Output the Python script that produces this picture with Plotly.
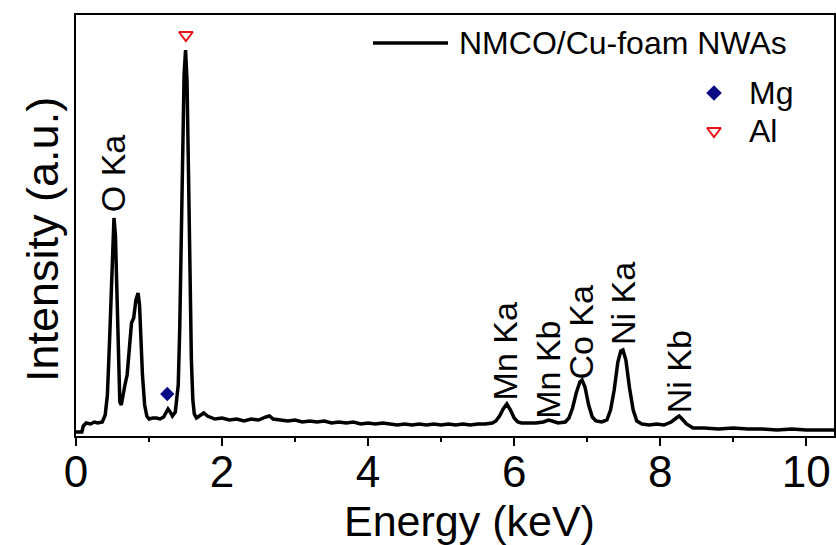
import plotly.graph_objects as go

# ---------------- data ----------------
energy_kev = [
    0.00, 0.08, 0.10, 0.14, 0.20, 0.25, 0.30, 0.36, 0.40, 0.43, 0.46, 0.48, 0.50, 0.52, 0.54,
    0.56, 0.58, 0.60, 0.62, 0.64, 0.67, 0.70, 0.73, 0.76, 0.79, 0.82, 0.85, 0.87, 0.89, 0.91,
    0.94, 0.97, 1.00, 1.05, 1.10, 1.15, 1.20, 1.23, 1.26, 1.29, 1.32, 1.36, 1.40, 1.42, 1.44,
    1.46, 1.48, 1.50, 1.52, 1.54, 1.56, 1.58, 1.60, 1.62, 1.65, 1.70, 1.75, 1.80, 1.90, 2.00,
    2.10, 2.20, 2.30, 2.40, 2.50, 2.60, 2.65, 2.70, 2.80, 2.90, 3.00, 3.10, 3.20, 3.30, 3.40,
    3.50, 3.60, 3.70, 3.80, 3.90, 4.00, 4.10, 4.20, 4.30, 4.40, 4.50, 4.60, 4.70, 4.80, 4.90,
    5.00, 5.10, 5.20, 5.30, 5.40, 5.50, 5.60, 5.70, 5.75, 5.80, 5.85, 5.90, 5.95, 6.00, 6.05,
    6.10, 6.20, 6.30, 6.40, 6.47, 6.52, 6.60, 6.70, 6.75, 6.80, 6.85, 6.90, 6.93, 6.97, 7.02,
    7.07, 7.12, 7.20, 7.27, 7.32, 7.37, 7.42, 7.46, 7.49, 7.53, 7.58, 7.63, 7.68, 7.75, 7.85,
    7.95, 8.05, 8.15, 8.22, 8.26, 8.30, 8.36, 8.45, 8.60, 8.80, 9.00, 9.20, 9.40, 9.60, 9.80,
    10.00, 10.20, 10.38,
]
intensity = [
    4, 4, 10, 13, 12, 14, 13, 14, 21, 41, 96, 146, 196, 218, 201,
    136, 66, 34, 31, 41, 51, 61, 86, 113, 118, 136, 143, 131, 96, 61,
    31, 20, 17, 18, 18, 17, 19, 23, 27, 24, 20, 24, 51, 106, 186,
    286, 361, 386, 356, 266, 166, 76, 36, 22, 18, 21, 23, 20, 17, 18,
    16, 17, 15, 17, 16, 19, 20, 17, 16, 15, 16, 14, 15, 14, 15,
    13, 14, 13, 14, 12, 13, 12, 13, 12, 11, 12, 11, 12, 11, 12,
    11, 12, 11, 12, 11, 12, 12, 13, 15, 20, 27, 32, 26, 18, 14,
    13, 13, 13, 14, 16, 15, 13, 14, 18, 28, 43, 54, 56, 49, 31,
    19, 15, 14, 16, 26, 46, 74, 85, 86, 76, 48, 26, 15, 12, 11,
    12, 11, 14, 18, 20, 17, 12, 8, 8, 7, 8, 7, 7, 6, 7,
    6, 6, 6,
]

mg_energy = [1.25]
mg_intensity = [42]
al_energy = [1.505]
al_intensity = [401]

peak_labels = ["O Ka", "Mn Ka", "Mn Kb", "Co Ka", "Ni Ka", "Ni Kb"]
peak_label_energy = [0.51, 5.88, 6.46, 6.91, 7.49, 8.26]
peak_label_height = [263, 85, 66, 104, 133, 64]

x_ticks = [0, 2, 4, 6, 8, 10]
series_name = "NMCO/Cu-foam NWAs"

FONT = "Arial, Liberation Sans, sans-serif"

# ---------------- figure ----------------
W, H = 836, 545
L, R, T, B = 76, 834, 15, 436   # plot area in pixels

fig = go.Figure()
fig.add_trace(go.Scatter(x=energy_kev, y=intensity, mode="lines",
                         line=dict(color="black", width=3.5), showlegend=False))
fig.add_trace(go.Scatter(x=mg_energy, y=mg_intensity, mode="markers",
                         marker=dict(symbol="diamond", size=11, color="#0b0b85"),
                         showlegend=False))
fig.add_trace(go.Scatter(x=al_energy, y=al_intensity, mode="markers",
                         marker=dict(symbol="triangle-down-open", size=12, color="#e8141c",
                                     line=dict(width=2, color="#e8141c")),
                         showlegend=False))

# legend built by hand (pixel-space overlay axes)
fig.add_trace(go.Scatter(x=[373, 448], y=[43, 43], mode="lines", xaxis="x2", yaxis="y2",
                         line=dict(color="black", width=3.5), showlegend=False, hoverinfo="skip"))
fig.add_trace(go.Scatter(x=[714], y=[93], mode="markers", xaxis="x2", yaxis="y2",
                         marker=dict(symbol="diamond", size=12, color="#0b0b85"),
                         showlegend=False, hoverinfo="skip"))
fig.add_trace(go.Scatter(x=[714], y=[131], mode="markers", xaxis="x2", yaxis="y2",
                         marker=dict(symbol="triangle-down-open", size=12, color="#e8141c",
                                     line=dict(width=2, color="#e8141c")),
                         showlegend=False, hoverinfo="skip"))

annotations = []
for txt, ex, ey in zip(peak_labels, peak_label_energy, peak_label_height):
    annotations.append(dict(x=ex, y=ey, xref="x", yref="y", text=txt, textangle=-90,
                            showarrow=False, font=dict(family=FONT, size=34, color="black"),
                            xanchor="center", yanchor="middle"))

def px(xp):
    return (xp - L) / (R - L)

def py(yp):
    return (B - yp) / (B - T)

for txt, xp, yp in [(series_name, 457, 43), ("Mg", 747, 93), ("Al", 747, 131)]:
    annotations.append(dict(x=px(xp), y=py(yp), xref="paper", yref="paper", text=txt,
                            showarrow=False, xanchor="left", yanchor="middle",
                            font=dict(family=FONT, size=32, color="black")))

annotations.append(dict(x=px(469), y=py(521), xref="paper", yref="paper", text="Energy (keV)",
                        showarrow=False, xanchor="center", yanchor="middle",
                        font=dict(family=FONT, size=43, color="black")))
annotations.append(dict(x=px(42), y=py(240), xref="paper", yref="paper", text="Intensity (a.u.)",
                        textangle=-90, showarrow=False, xanchor="center", yanchor="middle",
                        font=dict(family=FONT, size=45, color="black")))

fig.update_layout(
    width=W, height=H,
    margin=dict(l=L, r=W - R, t=T, b=H - B, pad=0),
    paper_bgcolor="white", plot_bgcolor="white",
    showlegend=False,
    annotations=annotations,
    xaxis=dict(range=[0, 10.38], tickvals=x_ticks, ticks="outside", ticklen=8, tickwidth=2,
               tickcolor="black", showline=True, linewidth=2, linecolor="black", mirror=True,
               showgrid=False, zeroline=False, automargin=False, ticklabelstandoff=-12,
               tickfont=dict(family=FONT, size=44, color="black"),
               minor=dict(dtick=1, ticks="outside", ticklen=4, tickwidth=2, tickcolor="black",
                          showgrid=False)),
    yaxis=dict(range=[0, B - T], showticklabels=False, ticks="", showline=True, linewidth=2,
               linecolor="black", mirror=True, showgrid=False, zeroline=False, automargin=False),
    xaxis2=dict(range=[L, R], overlaying="x", visible=False, fixedrange=True),
    yaxis2=dict(range=[B, T], overlaying="y", visible=False, fixedrange=True),
)

fig.write_html("out.html", config={"displayModeBar": False},
               post_script="document.body.style.margin='0px';document.body.style.overflow='hidden';")
